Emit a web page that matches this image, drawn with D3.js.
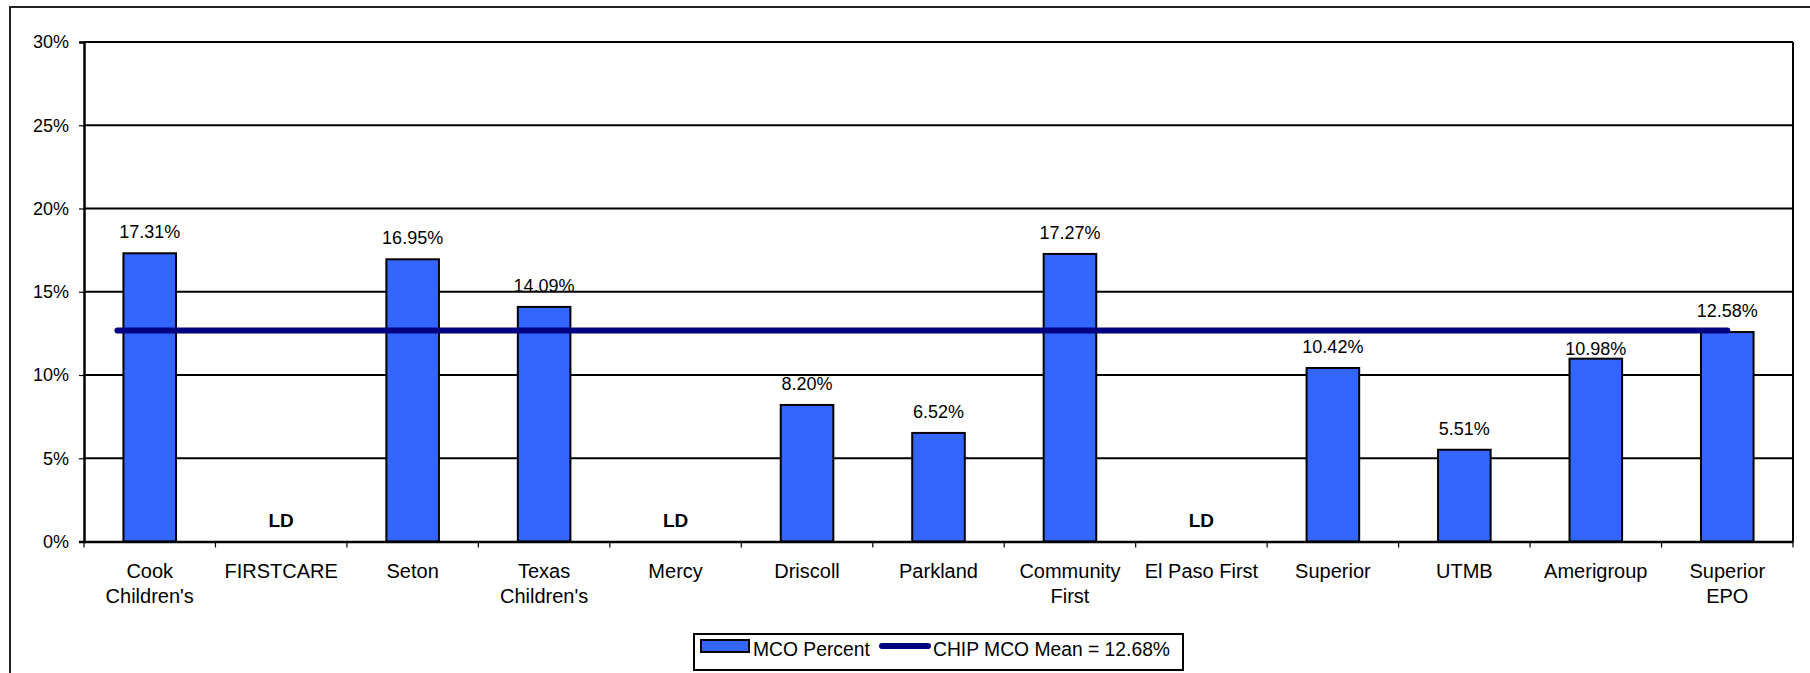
<!DOCTYPE html>
<html>
<head>
<meta charset="utf-8">
<script src="https://cdn.jsdelivr.net/npm/d3@7"></script>
<style>
	body { margin: 0; background: #fff; }
	svg { display: block; font-family: "Liberation Sans", Arial, sans-serif; }
</style>
</head>
<body>
<div id="chart"></div>
<script>
// data
const plans = ["Cook\nChildren's", "FIRSTCARE", "Seton", "Texas\nChildren's", "Mercy", "Driscoll",
	"Parkland", "Community\nFirst", "El Paso First", "Superior", "UTMB", "Amerigroup", "Superior\nEPO"]
const mcoPercent = [17.31, null, 16.95, 14.09, null, 8.20, 6.52, 17.27, null, 10.42, 5.51, 10.98, 12.58]
const chipMean = 12.68
const yTicks = [0, 5, 10, 15, 20, 25, 30]

const svgWidth = 1810
const svgHeight = 673
const margin = { left: 84, right: 17, top: 42, bottom: 131.5 }
const width = svgWidth - margin.left - margin.right,
	height = svgHeight - margin.top - margin.bottom

let svg = d3.select("#chart")
	.append("svg")
	.attr("width", svgWidth)
	.attr("height", svgHeight)

// outer chart border (only top/left show inside the picture)
svg.append("rect")
	.attr("x", 10).attr("y", 7)
	.attr("width", svgWidth + 20).attr("height", svgHeight + 20)
	.attr("fill", "none")
	.attr("stroke", "#222")
	.attr("stroke-width", 2)

let g = svg.append("g")
	.attr("transform", "translate(" + margin.left + ", " + margin.top + ")")

var x = d3.scaleBand()
	.domain(plans)
	.range([0, width])
	.paddingInner(0)
	.paddingOuter(0)

var y = d3.scaleLinear()
	.domain([0, 30])
	.range([height, 0])

const barW = x.bandwidth() * 0.4

// gridlines
g.selectAll("line.grid")
	.data(yTicks.filter(t => t > 0))
	.enter()
	.append("line")
	.attr("class", "grid")
	.attr("x1", 0).attr("x2", width)
	.attr("y1", d => y(d)).attr("y2", d => y(d))
	.attr("stroke", "#000")
	.attr("stroke-width", 2)

// plot frame right side
g.append("line")
	.attr("x1", width).attr("x2", width)
	.attr("y1", 0).attr("y2", height)
	.attr("stroke", "#000")
	.attr("stroke-width", 2)

// bars
g.selectAll("rect.bar")
	.data(plans.map((p, i) => ({ plan: p, value: mcoPercent[i] })).filter(d => d.value !== null))
	.enter()
	.append("rect")
	.attr("class", "bar")
	.attr("x", d => x(d.plan) + (x.bandwidth() - barW) / 2)
	.attr("y", d => y(d.value))
	.attr("width", barW)
	.attr("height", d => height - y(d.value))
	.attr("fill", "#3366FF")
	.attr("stroke", "#000")
	.attr("stroke-width", 2)

// mean line (starts just left of the first bar, ends at the last category centre)
const meanY = y(chipMean)
g.append("line")
	.attr("x1", x(plans[0]) + (x.bandwidth() - barW) / 2 - 6)
	.attr("x2", x(plans[plans.length - 1]) + x.bandwidth() / 2)
	.attr("y1", meanY).attr("y2", meanY)
	.attr("stroke", "#000080")
	.attr("stroke-width", 6)
	.attr("stroke-linecap", "round")

// data labels (LD where no value); nudge a label down if it would sit on the mean line
g.selectAll("text.dlabel")
	.data(plans.map((p, i) => ({ plan: p, value: mcoPercent[i] })))
	.enter()
	.append("text")
	.attr("class", "dlabel")
	.attr("x", d => x(d.plan) + x.bandwidth() / 2)
	.attr("y", d => {
		if (d.value === null) return y(0) - 15
		let base = y(d.value) - 15
		if (base - 14 < meanY + 4 && base > meanY - 4) base = y(d.value) - 4
		return base
	})
	.attr("text-anchor", "middle")
	.attr("font-size", d => d.value === null ? "19px" : "18px")
	.attr("font-weight", d => d.value === null ? "bold" : "normal")
	.attr("fill", "#000")
	.text(d => d.value === null ? "LD" : d.value.toFixed(2) + "%")

// axes
var xAxisCall = d3.axisBottom(x).tickSize(0).tickFormat("")
let xAxis = g.append("g")
	.attr("class", "x axis")
	.attr("transform", "translate(0, " + height + ")")
	.call(xAxisCall)
xAxis.select(".domain").attr("stroke", "#000").attr("stroke-width", 2.5)

g.selectAll("line.xtick")
	.data(plans.concat(["__end"]))
	.enter()
	.append("line")
	.attr("class", "xtick")
	.attr("x1", (d, i) => i * x.step()).attr("x2", (d, i) => i * x.step())
	.attr("y1", height).attr("y2", height + 6)
	.attr("stroke", "#000")
	.attr("stroke-width", 1.2)

g.selectAll("text.xlabel")
	.data(plans)
	.enter()
	.append("text")
	.attr("class", "xlabel")
	.attr("x", d => x(d) + x.bandwidth() / 2)
	.attr("y", height + 36)
	.attr("text-anchor", "middle")
	.attr("font-size", "20px")
	.attr("fill", "#000")
	.each(function(d) {
		const lines = d.split("\n")
		d3.select(this).selectAll("tspan")
			.data(lines)
			.enter()
			.append("tspan")
			.attr("x", x(d) + x.bandwidth() / 2)
			.attr("dy", (l, i) => i === 0 ? 0 : 25.5)
			.text(l => l)
	})

var yAxisCall = d3.axisLeft(y)
	.tickValues(yTicks)
	.tickSize(5)
	.tickPadding(10)
	.tickFormat(d => d + "%")
let yAxis = g.append("g")
	.attr("class", "y axis")
	.call(yAxisCall)
yAxis.select(".domain").attr("stroke", "#000").attr("stroke-width", 2.5)
yAxis.selectAll(".tick line").attr("stroke", "#000").attr("stroke-width", 1.2)
yAxis.selectAll(".tick text")
	.attr("font-size", "18px")
	.attr("font-family", "\"Liberation Sans\", Arial, sans-serif")
	.attr("fill", "#000")

// legend
let legend = svg.append("g")
	.attr("transform", "translate(694, 634)")
legend.append("rect")
	.attr("width", 489).attr("height", 36)
	.attr("fill", "#fff")
	.attr("stroke", "#000")
	.attr("stroke-width", 2)
legend.append("rect")
	.attr("x", 7).attr("y", 6)
	.attr("width", 48).attr("height", 12)
	.attr("fill", "#3366FF")
	.attr("stroke", "#000")
	.attr("stroke-width", 2)
legend.append("text")
	.attr("x", 59).attr("y", 22)
	.attr("font-size", "19.3px")
	.text("MCO Percent")
legend.append("line")
	.attr("x1", 188).attr("x2", 234)
	.attr("y1", 12).attr("y2", 12)
	.attr("stroke", "#000080")
	.attr("stroke-width", 6)
	.attr("stroke-linecap", "round")
legend.append("text")
	.attr("x", 239).attr("y", 22)
	.attr("font-size", "19.3px")
	.text("CHIP MCO Mean = " + chipMean.toFixed(2) + "%")
</script>
</body>
</html>
